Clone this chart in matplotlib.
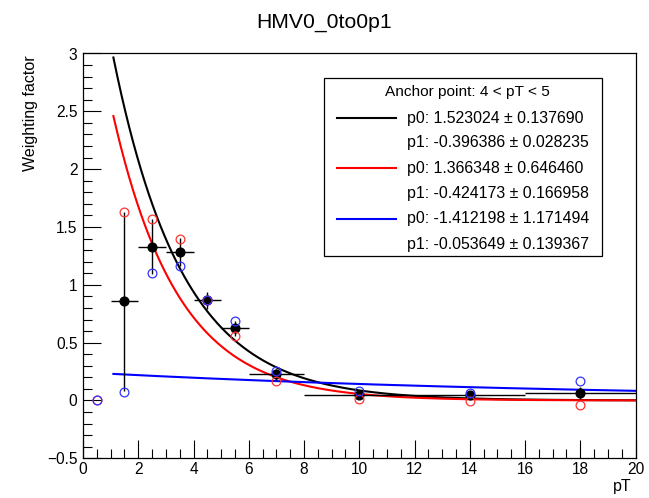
import numpy as np
import matplotlib
matplotlib.use("Agg")
import matplotlib.pyplot as plt
from matplotlib.lines import Line2D
from matplotlib.patches import Rectangle
from matplotlib.ticker import MultipleLocator

plt.rcParams['font.family'] = ['Liberation Sans', 'DejaVu Sans']

# ---- data ----
title = "HMV0_0to0p1"
xlabel = "pT"
ylabel = "Weighting factor"
legend_header = "Anchor point: 4 < pT < 5"

black_x = [1.5, 2.5, 3.5, 4.5, 5.5, 7, 10, 14, 18]
black_y = [0.856, 1.33, 1.286, 0.865, 0.623, 0.225, 0.05, 0.044, 0.063]
black_xerr = [0.5, 0.5, 0.5, 0.5, 0.5, 1, 2, 2, 2]
black_yerr = [0.775, 0.235, 0.12, 0.07, 0.065, 0.05, 0.035, 0.035, 0.05]

open_x = [0.5, 1.5, 2.5, 3.5, 4.5, 5.5, 7, 10, 14, 18]
red_y = [0.0, 1.626, 1.566, 1.40, 0.865, 0.556, 0.165, 0.012, -0.006, -0.037]
blue_y = [0.0, 0.072, 1.099, 1.16, 0.865, 0.683, 0.255, 0.08, 0.066, 0.165]

fit_colors = ['black', '#ff0000', '#0000ff']
fit_p0 = [1.523024, 1.366348, -1.412198]
fit_p0_err = [0.137690, 0.646460, 1.171494]
fit_p1 = [-0.396386, -0.424173, -0.053649]
fit_p1_err = [0.028235, 0.166958, 0.139367]
fit_range = (1.1, 20.0)

# ---- figure ----
W, H = 649, 498
fig = plt.figure(figsize=(W / 100, H / 100), dpi=100)
ax = fig.add_axes([83 / W, 1 - 458.3 / H, (635.5 - 83) / W, (458.3 - 53.5) / H])
ax.set_xlim(0, 20)
ax.set_ylim(-0.5, 3)

# fit curves
xf = np.linspace(fit_range[0], fit_range[1], 400)
for c, p0, p1 in zip(fit_colors, fit_p0, fit_p1):
    ax.plot(xf, np.exp(p0 + p1 * xf), color=c, lw=1.5, zorder=2)

# black points
ax.errorbar(black_x, black_y, xerr=black_xerr, yerr=black_yerr, fmt='o',
            color='black', ms=6.3, elinewidth=1, capsize=0, zorder=3)
# open circles
ax.plot(open_x, red_y, 'o', mfc='none', mec='#ff3333', ms=6.3, mew=0.9, zorder=4)
ax.plot(open_x, blue_y, 'o', mfc='none', mec='#3333ff', ms=6.3, mew=0.9, zorder=4)

# ticks
ax.xaxis.set_major_locator(MultipleLocator(2))
ax.xaxis.set_minor_locator(MultipleLocator(0.5))
ax.yaxis.set_major_locator(MultipleLocator(0.5))
ax.yaxis.set_minor_locator(MultipleLocator(0.1))
ax.tick_params(which='both', direction='in', top=False, right=False, labelsize=11.2, width=0.8)
ax.tick_params(which='major', length=13)
ax.tick_params(which='minor', length=6.5)
ax.tick_params(axis='x', pad=2.5)
ax.tick_params(axis='y', pad=4)
ax.set_xticks(np.arange(0, 21, 2))
ax.set_xticklabels([str(v) for v in range(0, 21, 2)])
ax.set_yticks(np.arange(-0.5, 3.01, 0.5))
ax.set_yticklabels(['\u22120.5', '0', '0.5', '1', '1.5', '2', '2.5', '3'])
for s in ax.spines.values():
    s.set_linewidth(0.9)

# texts
fig.text(324.5 / W, 1 - 22 / H, title, ha='center', va='center', fontsize=15.2)
fig.text(632 / W, 1 - 486 / H, xlabel, ha='right', va='center', fontsize=11.5)
fig.text(30 / W, 1 - 55 / H, ylabel, ha='center', va='top', rotation=90, fontsize=11.5)

# legend box
fig.patches.append(Rectangle((324 / W, 1 - 256 / H), (602 - 324) / W, (256 - 78) / H,
                             transform=fig.transFigure, fill=True, facecolor='white',
                             edgecolor='black', lw=0.9, zorder=5))
fig.text(467 / W, 1 - 92 / H, legend_header, ha='center', va='center', fontsize=11.1, zorder=6)
row_y = [118.3, 143, 168, 193.5, 218.5, 244]
labels = []
for p0, e0, p1, e1 in zip(fit_p0, fit_p0_err, fit_p1, fit_p1_err):
    labels.append(f"p0: {p0:.6f} \u00b1 {e0:.6f}")
    labels.append(f"p1: {p1:.6f} \u00b1 {e1:.6f}")
for i, (ry, lab) in enumerate(zip(row_y, labels)):
    if i % 2 == 0:
        c = fit_colors[i // 2]
        fig.lines.append(Line2D([337 / W, 396 / W], [1 - ry / H, 1 - ry / H],
                                transform=fig.transFigure, color=c, lw=1.5, zorder=6))
    fig.text(407 / W, 1 - ry / H, lab, ha='left', va='center', fontsize=11.4, zorder=6)

fig.savefig('out.png', dpi=100)
